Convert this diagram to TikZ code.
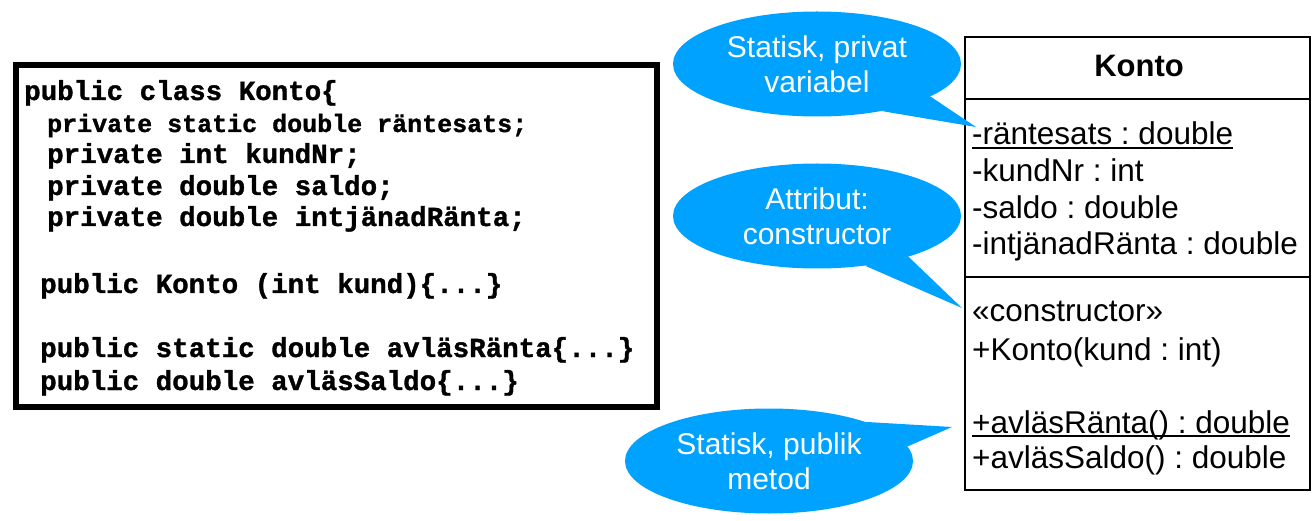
\documentclass[tikz,border=0pt]{standalone}
\usepackage{fontspec}
\setmainfont{Liberation Sans}
\newfontfamily\codefont[BoldFeatures={FakeBold=1.2}]{Liberation Mono}
\usetikzlibrary{shapes.geometric}
\definecolor{bubblecol}{RGB}{0,162,255}
\frenchspacing
\begin{document}
\begin{tikzpicture}[x=1pt,y=-1pt,
  codeline/.style={anchor=base west, inner sep=0pt, font=\codefont\bfseries\fontsize{27.5}{32}\selectfont},
  codesmall/.style={codeline, font=\codefont\bfseries\fontsize{25}{30}\selectfont},
  umltext/.style={anchor=base west, inner sep=0pt, font=\fontsize{31.5}{36}\selectfont},
  umlbox/.style={draw, line width=2.5pt},
  bubble/.style={ellipse, fill=bubblecol, text=white, inner sep=0pt, minimum width=288pt, minimum height=105pt, align=center, font=\fontsize{30}{35}\selectfont},
  tail/.style={fill=bubblecol},
  ul/.style={line width=1.4pt}
]
\useasboundingbox (0,0) rectangle (1312,521);

% code box
\draw[line width=6pt] (16,65) rectangle (657,407);
\node[codeline] (c1) at (24,100) {public class Konto\{};
\node[codesmall] (c2) at (47,132) {private static double räntesats;};
\node[codeline] (c3) at (47,163) {private int kundNr;};
\node[codeline] (c4) at (47,195) {private double saldo;};
\node[codeline] (c5) at (47,226) {private double intjänadRänta;};
\node[codeline] (c6) at (40,293) {public Konto (int kund)\{...\}};
\node[codeline] (c7) at (40,357) {public static double avläsRänta\{...\}};
\node[codeline] (c8) at (40,390) {public double avläsSaldo\{...\}};

% UML class
\draw[umlbox] (965,37) rectangle (1310,490);
\draw[umlbox] (965,99) -- (1310,99);
\draw[umlbox] (965,277) -- (1310,277);
\node[anchor=base, inner sep=0pt, font=\bfseries\fontsize{31}{36}\selectfont] (title) at (1139,77) {Konto};
\node[umltext] (a1) at (972,145) {-räntesats : double};
\node[umltext] (a2) at (972,182) {-kundNr : int};
\node[umltext] (a3) at (972,219) {-saldo : double};
\node[umltext] (a4) at (972,255) {-intjänadRänta : double};
\node[umltext] (o1) at (972,322) {«constructor»};
\node[umltext] (o2) at (972,360) {+Konto(kund : int)};
\node[umltext] (o3) at (972,433) {+avläsRänta() : double};
\node[umltext] (o4) at (972,468) {+avläsSaldo() : double};
\draw[ul] ([yshift=-3pt]a1.base west) -- ([yshift=-3pt]a1.base east);
\draw[ul] ([yshift=-3pt]o3.base west) -- ([yshift=-3pt]o3.base east);

% bubbles
\coordinate (t1) at (976,127);
\coordinate (t2) at (962,308);
\coordinate (t3) at (952,427);
\node[bubble] (b1) at (817,64) {Statisk, privat\\variabel};
\node[bubble] (b2) at (817,216) {Attribut:\\constructor};
\node[bubble] (b3) at (769,461) {Statisk, publik\\metod};
\fill[tail] (b1.-16) -- (t1) -- (b1.-36) -- cycle;
\fill[tail] (b2.-24) -- (t2) -- (b2.-46) -- cycle;
\fill[tail] (b3.22) -- (t3) -- (b3.6) -- cycle;
\end{tikzpicture}
\end{document}
